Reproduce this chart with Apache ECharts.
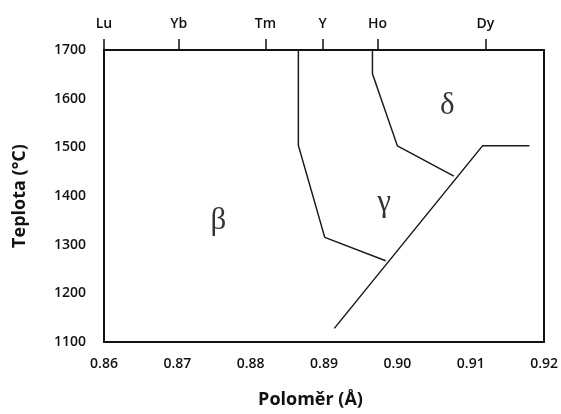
<!DOCTYPE html>
<html>
<head>
<meta charset="utf-8">
<script src="https://cdn.jsdelivr.net/npm/echarts@6/dist/echarts.min.js"></script>
<style>
  html, body { margin: 0; padding: 0; background: #fff; }
  #chart { width: 561px; height: 414px; }
</style>
</head>
<body>
<div id="chart"></div>
<script>
// Phase boundaries: [ionic radius (Å), temperature (°C)]
const betaGammaBoundary = [[0.8865, 1700], [0.8865, 1504], [0.8901, 1315], [0.8984, 1267]];
const gammaDeltaBoundary = [[0.8966, 1700], [0.8966, 1651], [0.9000, 1503], [0.9077, 1441]];
const lowerBoundary = [[0.8914, 1128], [0.9116, 1503], [0.9180, 1503]];

// Phase labels placed inside their regions
const phaseNames = ['β', 'γ', 'δ'];
const phasePositions = [[0.8756, 1349], [0.8982, 1385], [0.9068, 1586]];

// Rare-earth elements marked on the top axis by ionic radius
const elementNames = ['Lu', 'Yb', 'Tm', 'Y', 'Ho', 'Dy'];
const elementRadii = [0.8600, 0.8702, 0.8820, 0.8898, 0.8973, 0.9120];

// Axis ranges and ticks
const radiusMin = 0.86, radiusMax = 0.92, radiusStep = 0.01;
const tempMin = 1100, tempMax = 1700, tempStep = 100;

const frameColor = '#111';
const lineColor = '#1a1a1a';
const tickFont = { fontFamily: 'Open Sans', fontWeight: 600, fontSize: 14, color: '#111' };

const boundarySeries = [betaGammaBoundary, gammaDeltaBoundary, lowerBoundary].map(function (pts) {
  return {
    type: 'line',
    data: pts,
    symbol: 'none',
    silent: true,
    lineStyle: { color: lineColor, width: 1.5 },
    xAxisIndex: 0,
    yAxisIndex: 0
  };
});

const labelSeries = {
  type: 'scatter',
  symbolSize: 0,
  silent: true,
  data: phasePositions.map(function (p, i) { return { value: p, name: phaseNames[i] }; }),
  label: {
    show: true,
    position: 'inside',
    formatter: function (d) { return d.name; },
    fontFamily: 'Liberation Serif',
    fontSize: 31,
    color: '#000'
  }
};

const chart = echarts.init(document.getElementById('chart'));
chart.setOption({
  animation: false,
  backgroundColor: '#fff',
  grid: { left: 104, right: 16, top: 50, bottom: 65 },
  xAxis: [
    {
      type: 'value',
      position: 'bottom',
      min: radiusMin, max: radiusMax, interval: radiusStep,
      name: 'Poloměr (Å)',
      nameLocation: 'middle',
      nameGap: 49,
      nameTextStyle: { fontFamily: 'Open Sans', fontWeight: 700, fontSize: 18, color: '#111', padding: [0, 27, 0, 0] },
      axisLine: { show: true, lineStyle: { color: frameColor, width: 2 } },
      axisTick: { show: false },
      splitLine: { show: false },
      axisLabel: Object.assign({ margin: 15, formatter: function (v) { return v.toFixed(2); } }, tickFont)
    },
    {
      type: 'value',
      position: 'top',
      min: radiusMin, max: radiusMax,
      axisLine: { show: true, lineStyle: { color: frameColor, width: 2 } },
      axisTick: {
        show: true, inside: false, length: 11,
        customValues: elementRadii,
        lineStyle: { color: frameColor, width: 1.5 }
      },
      splitLine: { show: false },
      axisLabel: Object.assign({
        margin: 19,
        customValues: elementRadii,
        formatter: function (v) {
          let best = 0;
          elementRadii.forEach(function (r, i) {
            if (Math.abs(r - v) < Math.abs(elementRadii[best] - v)) best = i;
          });
          return elementNames[best];
        }
      }, tickFont)
    }
  ],
  yAxis: [
    {
      type: 'value',
      position: 'left',
      min: tempMin, max: tempMax, interval: tempStep,
      name: 'Teplota (°C)',
      nameLocation: 'middle',
      nameGap: 75,
      nameRotate: 90,
      nameTextStyle: { fontFamily: 'Open Sans', fontWeight: 700, fontSize: 18, color: '#111' },
      axisLine: { show: true, lineStyle: { color: frameColor, width: 2 } },
      axisTick: { show: false },
      splitLine: { show: false },
      axisLabel: Object.assign({ margin: 18, formatter: function (v) { return String(v); } }, tickFont)
    },
    {
      type: 'value',
      position: 'right',
      min: tempMin, max: tempMax,
      axisLine: { show: true, lineStyle: { color: frameColor, width: 2 } },
      axisTick: { show: false },
      axisLabel: { show: false },
      splitLine: { show: false }
    }
  ],
  series: boundarySeries.concat([labelSeries])
});
</script>
</body>
</html>
